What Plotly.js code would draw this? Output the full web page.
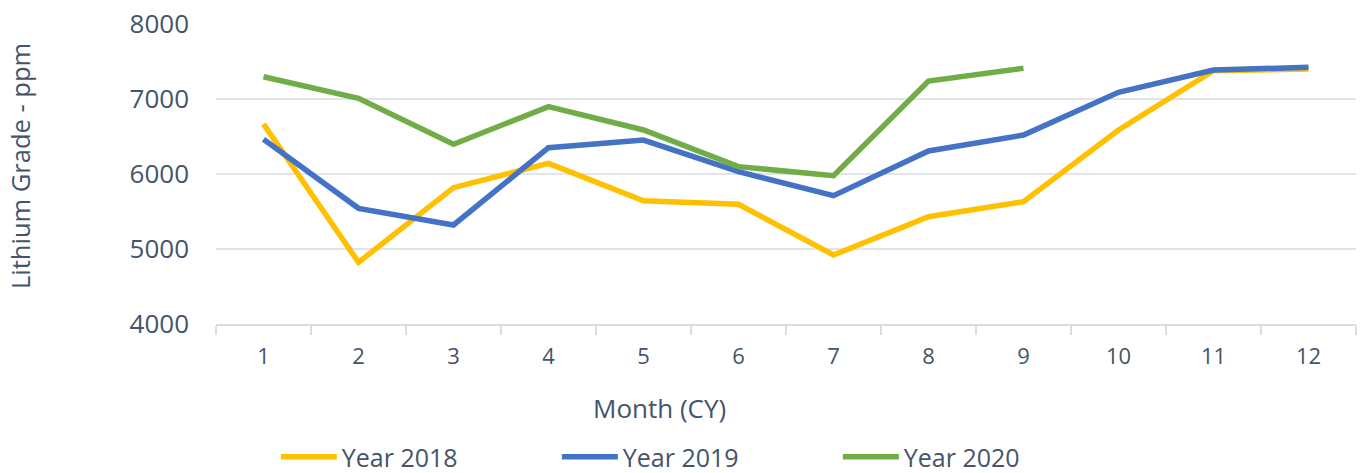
<!DOCTYPE html>
<html>
<head>
<meta charset="utf-8">
<script src="https://cdn.plot.ly/plotly-3.0.1.min.js"></script>
<style>html,body{margin:0;padding:0;background:#fff;}#chart{width:1362px;height:473px;}</style>
</head>
<body>
<div id="chart"></div>
<script>
const months = ['1','2','3','4','5','6','7','8','9','10','11','12'];
const year2018 = [6667, 4822, 5818, 6142, 5644, 5596, 4920, 5431, 5631, 6587, 7378, 7400];
const year2019 = [6462, 5542, 5320, 6351, 6453, 6031, 5711, 6307, 6520, 7089, 7387, 7422];
const year2020 = [7297, 7009, 6396, 6898, 6587, 6098, 5978, 7240, 7409];
const seriesNames = ['Year 2018', 'Year 2019', 'Year 2020'];
const yTicks = [4000, 5000, 6000, 7000, 8000];
const xTitle = 'Month (CY)';
const yTitle = 'Lithium Grade - ppm';

const colors = ['#FFC000', '#4472C4', '#70AD47'];
const textColor = '#44546A';
const font = 'Open Sans, sans-serif';

const traces = [year2018, year2019, year2020].map((vals, i) => ({
  type: 'scatter',
  mode: 'lines',
  name: seriesNames[i],
  x: months.slice(0, vals.length),
  y: vals,
  line: {color: colors[i], width: 5.5, shape: 'linear'},
  hoverinfo: 'x+y+name'
}));

const layout = {
  width: 1362,
  height: 473,
  margin: {l: 216, r: 6, t: 24, b: 149, autoexpand: false},
  paper_bgcolor: '#ffffff',
  plot_bgcolor: '#ffffff',
  font: {family: font, color: textColor, size: 20},
  showlegend: true,
  xaxis: {
    type: 'category',
    categoryorder: 'array',
    categoryarray: months,
    range: [-0.5, 11.5],
    automargin: false,
    showgrid: false,
    showline: true,
    linecolor: '#D9DDE3',
    linewidth: 2,
    ticks: 'outside',
    tickson: 'boundaries',
    ticklen: 9,
    tickwidth: 2,
    tickcolor: '#D9DDE3',
    tickfont: {family: font, size: 22, color: textColor},
    ticklabelstandoff: 12,
    zeroline: false,
    fixedrange: true
  },
  yaxis: {
    range: [4000, 8000],
    automargin: false,
    tickvals: yTicks,
    ticktext: yTicks.map(String),
    showgrid: true,
    gridcolor: '#E1E5EB',
    gridwidth: 1.5,
    showline: false,
    zeroline: false,
    ticks: '',
    tickfont: {family: font, size: 26, color: textColor},
    ticklabelstandoff: 26,
    fixedrange: true
  },
  annotations: [
    {
      text: xTitle, xref: 'paper', yref: 'paper',
      x: (659 - 216) / 1140, y: (324 - 408) / 300,
      xanchor: 'center', yanchor: 'middle', showarrow: false,
      font: {family: font, size: 26, color: textColor}
    },
    {
      text: yTitle, xref: 'paper', yref: 'paper',
      x: (20 - 216) / 1140, y: (324 - 166) / 300,
      xanchor: 'center', yanchor: 'middle', showarrow: false, textangle: -90,
      font: {family: font, size: 25.5, color: textColor}
    }
  ],
  legend: {
    orientation: 'h',
    x: 0.0525,
    xanchor: 'left',
    y: (324 - 457) / 300,
    yanchor: 'middle',
    font: {family: font, size: 25, color: textColor},
    itemwidth: 56,
    entrywidth: 210,
    entrywidthmode: 'pixels',
    tracegroupgap: 0,
    bgcolor: 'rgba(0,0,0,0)'
  }
};

Plotly.newPlot('chart', traces, layout, {displayModeBar: false, staticPlot: true});
</script>
</body>
</html>
